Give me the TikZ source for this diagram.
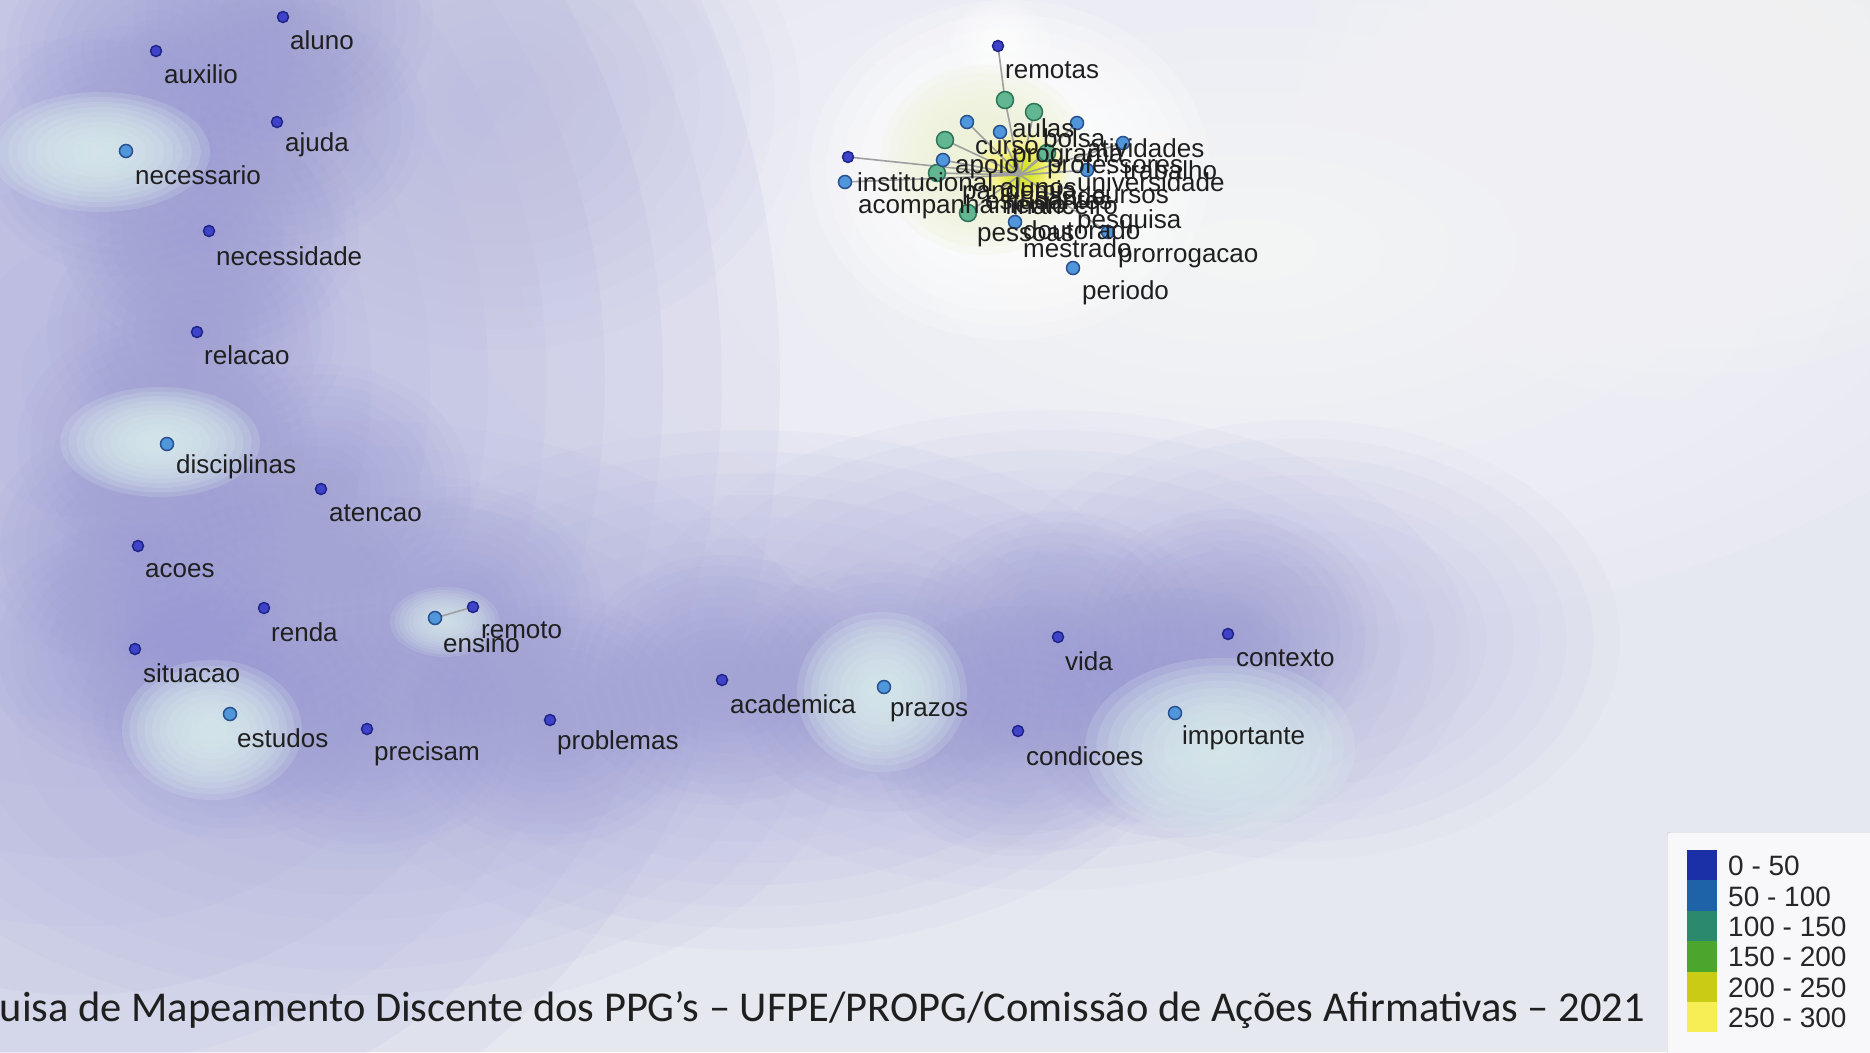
\documentclass[tikz,border=0pt]{standalone}
\usepackage{fontspec}
\setmainfont{Liberation Sans}
\newfontfamily\footfont{Carlito}
\definecolor{bgc}{HTML}{E6E8F0}
\definecolor{lav}{HTML}{B4B4E0}
\definecolor{lavd}{HTML}{9898D4}
\definecolor{halo}{HTML}{D8EAEC}
\definecolor{dkfill}{HTML}{3F43C8}
\definecolor{dkline}{HTML}{1E2488}
\definecolor{lbfill}{HTML}{4F97DA}
\definecolor{lbline}{HTML}{28508F}
\definecolor{gnfill}{HTML}{62B792}
\definecolor{gnline}{HTML}{2E7458}
\definecolor{lg1}{HTML}{1B2FA6}
\definecolor{lg2}{HTML}{1E62A8}
\definecolor{lg3}{HTML}{2B8A6E}
\definecolor{lg4}{HTML}{4CA62E}
\definecolor{lg5}{HTML}{C9CB14}
\definecolor{lg6}{HTML}{F7EE55}
\definecolor{paleyg}{HTML}{EEF2D8}
\newcommand\blob[5]{\foreach \k in {1,...,12}{\fill[#1,opacity=#2/8] (#3) ellipse [x radius={#4*\k/12}, y radius={#5*\k/12}];}}
\begin{document}
\begin{tikzpicture}[x=1pt,y=-1pt,
  dk/.style={circle,fill=dkfill,draw=dkline,line width=1.5pt,minimum size=11pt,inner sep=0pt},
  lb/.style={circle,fill=lbfill,draw=lbline,line width=1.5pt,minimum size=13pt,inner sep=0pt},
  gn/.style={circle,fill=gnfill,draw=gnline,line width=1.5pt,minimum size=17pt,inner sep=0pt},
  wl/.style={font=\fontsize{26}{26}\selectfont,text=black!88,anchor=west,inner sep=0pt},
  lgl/.style={font=\fontsize{28}{28}\selectfont,text=black!85,anchor=west,inner sep=0pt},
  edge/.style={draw=gray!75,line width=1.6pt}]
\useasboundingbox (0,0) rectangle (1870,1052);
\fill[bgc] (0,0) rectangle (1870,1052);
\begin{scope}
\clip (0,0) rectangle (1870,1052);
% general shading
\blob{white}{0.7}{1250,250}{800}{380}
\blob{white}{0.5}{1700,100}{400}{300}
\blob{lav}{1}{80,380}{700}{820}
\blob{lav}{0.7}{350,720}{500}{300}
\blob{lav}{0.7}{750,690}{450}{260}
\blob{lav}{0.6}{1050,650}{420}{240}
\blob{lav}{0.5}{1300,640}{320}{220}
\blob{lav}{0.4}{500,100}{300}{250}
% per-node darker zones
\foreach \x/\y in {283/17,156/51,277/122,126/151,209/231,197/332,167/444,321/489,138/546,264/608,455/612,135/649,230/714,367/729,550/720,722/680,884/687,1058/637,1228/634,1018/731,1175/713}{
  \blob{lavd}{0.5}{\x,\y}{150}{125}
}
% halos
\blob{halo}{1.6}{100,152}{110}{60}
\blob{halo}{1.6}{160,442}{100}{55}
\blob{halo}{1.6}{212,730}{90}{70}
\blob{halo}{1.6}{882,692}{85}{80}
\blob{halo}{1.6}{1220,748}{135}{90}
\blob{halo}{1.2}{445,622}{55}{35}
\blob{white}{1}{1000,40}{50}{40}
\blob{white}{1.6}{1010,170}{200}{170}
\blob{paleyg}{1.8}{985,160}{105}{95}
\blob{yellow!60!white}{1.4}{1022,170}{45}{38}
\blob{yellow!80!green}{1}{1022,172}{25}{22}
\end{scope}
% ---------- isolated nodes ----------
\coordinate (p-ensino) at (435,618);
\coordinate (p-remoto) at (473,607);
\draw[edge] (p-ensino) -- (p-remoto);
\foreach \n/\x/\y/\s in {aluno/283/17/dk,auxilio/156/51/dk,ajuda/277/122/dk,necessario/126/151/lb,necessidade/209/231/dk,relacao/197/332/dk,disciplinas/167/444/lb,atencao/321/489/dk,acoes/138/546/dk,renda/264/608/dk,ensino/435/618/lb,remoto/473/607/dk,situacao/135/649/dk,estudos/230/714/lb,precisam/367/729/dk,problemas/550/720/dk,academica/722/680/dk,prazos/884/687/lb,vida/1058/637/dk,contexto/1228/634/dk,condicoes/1018/731/dk,importante/1175/713/lb}{
  \node[\s] (n-\n) at (\x,\y) {};
}
\foreach \n/\x/\y in {aluno/290/40,auxilio/164/74,ajuda/285/145,necessario/135/175,necessidade/216/256,relacao/204/355,disciplinas/176/467,atencao/329/513,acoes/145/571,renda/271/632,ensino/443/643,remoto/481/630,situacao/143/673,estudos/237/738,precisam/374/754,problemas/557/743,academica/730/704,prazos/890/712,vida/1065/661,contexto/1236/658,condicoes/1026/756,importante/1182/738}{
  \node[wl] (t-\n) at (\x,\y) {\n};
}
% ---------- cluster ----------
\coordinate (core) at (1020,175);
\coordinate (k-remotas) at (998,46);
\coordinate (k-g1) at (1005,100);
\draw[edge] (k-remotas) -- (k-g1);
\foreach \c/\x/\y in {g1/1005/100,g2/1034/112,b1/967/122,b2/1000/132,b3/1077/123,g3/945/140,b4/1123/143,d1/848/157,b5/845/182,b6/943/160,g4/937/173,g5/968/213,g6/1047/153,b7/1015/222,b8/1108/232,b9/1087/170}{
  \coordinate (k-\c) at (\x,\y);
  \draw[edge] (k-\c) -- (core);
}
\node[dk] (c-remotas) at (998,46) {};
\node[dk] (c-d1) at (848,157) {};
\foreach \c/\x/\y in {g1/1005/100,g2/1034/112,g3/945/140,g4/937/173,g5/968/213,g6/1047/153}{\node[gn] (c-\c) at (\x,\y) {};}
\foreach \c/\x/\y in {b1/967/122,b2/1000/132,b3/1077/123,b4/1123/143,b5/845/182,b6/943/160,b7/1015/222,b8/1108/232,b9/1087/170,periodo/1073/268}{\node[lb] (c-\c) at (\x,\y) {};}
\foreach \n/\x/\y in {remotas/1005/70,aulas/1012/128,bolsa/1043/138,curso/975/148,programa/1012/158,atividades/1087/148,professores/1047/167,trabalho/1123/170,apoio/955/167,institucional/857/182,universidade/1077/182,acompanhamento/858/207,cursos/1092/197,pesquisa/1077/222,pessoas/977/237,doutorado/1023/230,mestrado/1023/248,prorrogacao/1118/258,periodo/1082/293,pandemia/962/193,alunos/1000/187,estudantes/985/200,saude/1035/196,financeiro/1005/205}{
  \node[wl] (ct-\n) at (\x,\y) {\n};
}
% ---------- legend ----------
\node[draw=black!22,fill=white!70!bgc,rounded corners=3pt,minimum width=210pt,minimum height=225pt,anchor=north west,inner sep=0pt] (legend) at (1667,832) {};
\foreach \i/\c/\t in {0/lg1/0 - 50,1/lg2/50 - 100,2/lg3/100 - 150,3/lg4/150 - 200,4/lg5/200 - 250,5/lg6/250 - 300}{
  \fill[\c] (1687,850+30.4*\i) rectangle (1717,880.4+30.4*\i);
  \node[lgl] (lgt\i) at (1728,866+30.4*\i) {\t};
}
% ---------- footer ----------
\node[font=\footfont\fontsize{42.5}{42.5}\selectfont,text=black!88,anchor=east,inner sep=0pt] (footer) at (1645,1010) {uisa de Mapeamento Discente dos PPG’s – UFPE/PROPG/Comissão de Ações Afirmativas – 2021};
\end{tikzpicture}
\end{document}
